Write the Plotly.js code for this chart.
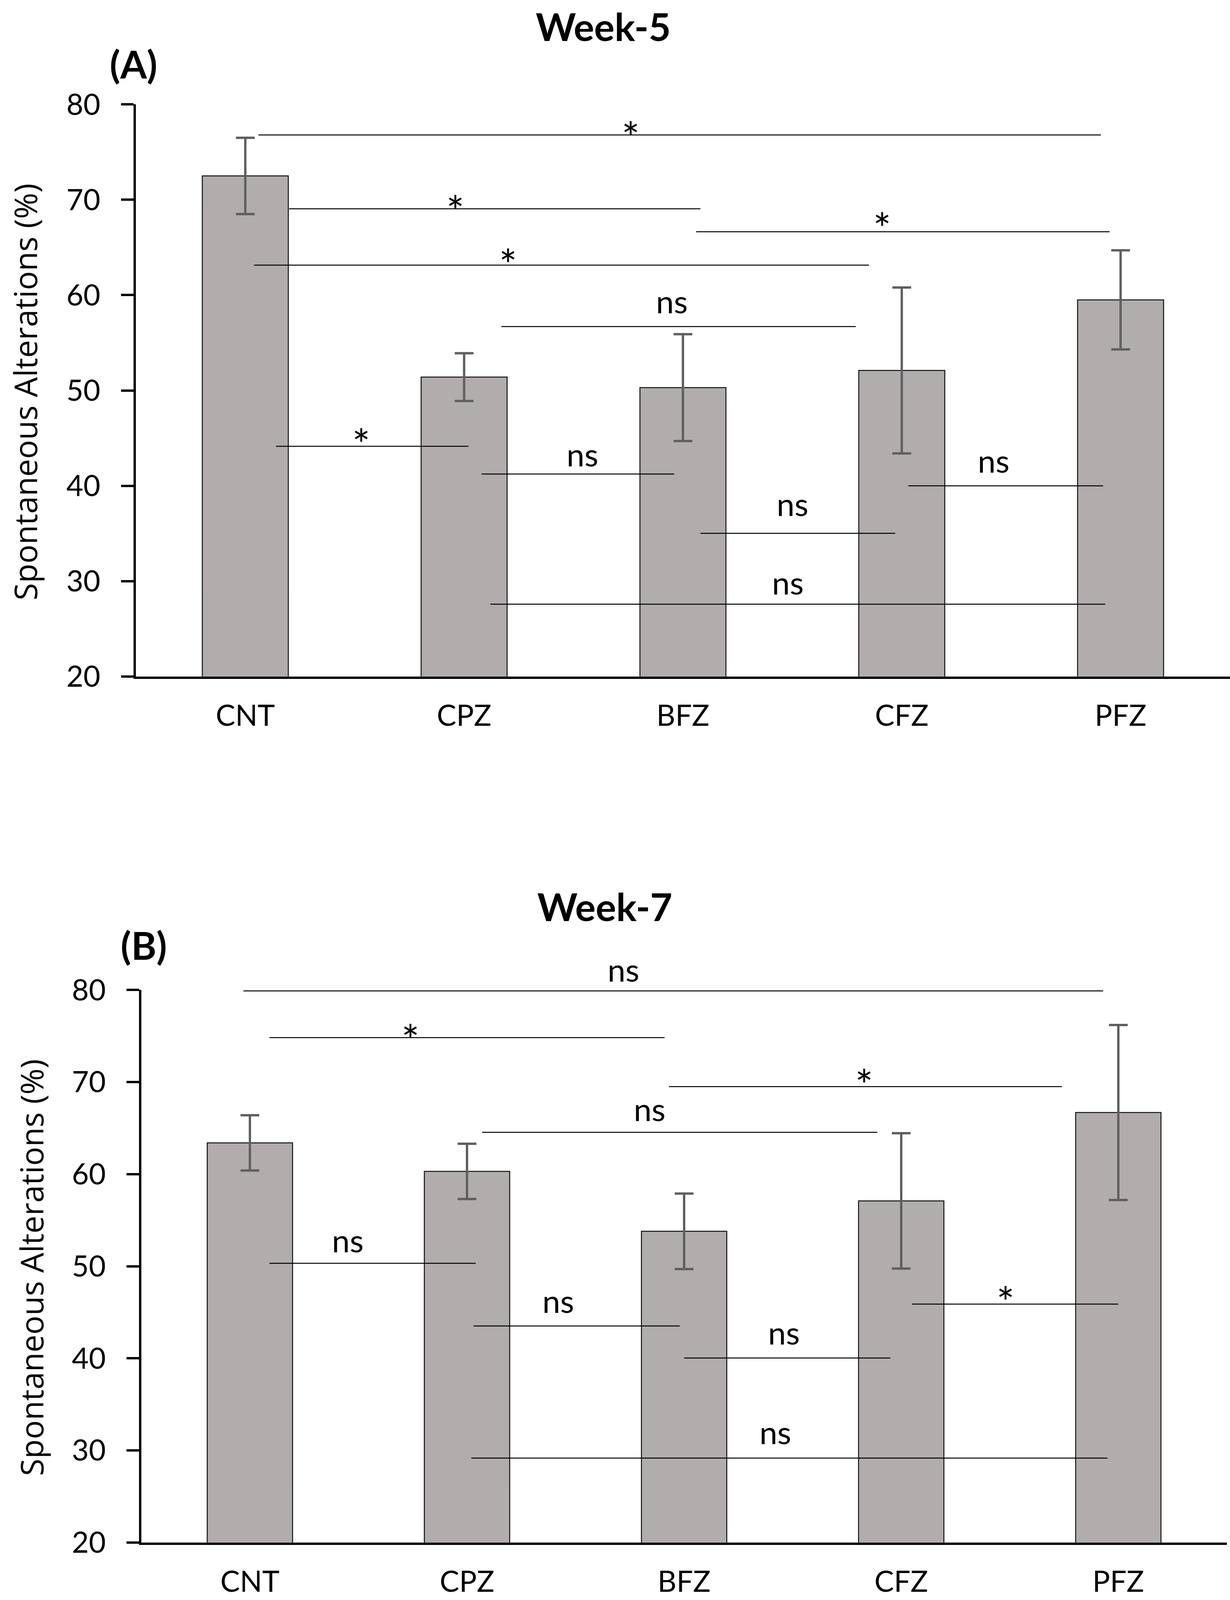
<!DOCTYPE html>
<html>
<head>
<meta charset="utf-8">
<script src="https://cdn.plot.ly/plotly-3.0.1.min.js"></script>
<style>html,body{margin:0;padding:0;background:#fff;overflow:hidden;}</style>
</head>
<body>
<div id="chart"></div>
<script>
// ---------- data ----------
const categories = ['CNT', 'CPZ', 'BFZ', 'CFZ', 'PFZ'];
const yTicks = [20, 30, 40, 50, 60, 70, 80];

const week5Mean = [72.5, 51.4, 50.3, 52.1, 59.5];
const week5Err  = [4.0, 2.5, 5.6, 8.7, 5.2];
const week7Mean = [63.4, 60.3, 53.8, 57.1, 66.7];
const week7Err  = [3.0, 3.0, 4.1, 7.35, 9.5];

// significance comparison lines (category index from/to, level) and labels
const week5SigFrom  = [0.06, 0.20, 2.06, 0.04, 1.17, 0.14, 1.08, 3.03, 2.08, 1.12];
const week5SigTo    = [3.91, 2.08, 3.95, 2.85, 2.79, 1.02, 1.96, 3.92, 2.97, 3.93];
const week5SigLevel = [76.8, 69.05, 66.65, 63.14, 56.7, 44.14, 41.23, 40.0, 35.02, 27.58];
const week5SigText  = ['*', '*', '*', '*', 'ns', '*', 'ns', 'ns', 'ns', 'ns'];
const week5TextX    = [1.76, 0.96, 2.91, 1.20, 1.95, 0.53, 1.54, 3.42, 2.50, 2.48];
const week5TextY    = [78.06, 70.32, 68.54, 64.72, 58.96, 45.87, 42.91, 42.25, 37.72, 29.47];

const week7SigFrom  = [-0.03, 0.09, 1.93, 1.07, 0.09, 1.03, 3.05, 2.00, 1.02];
const week7SigTo    = [3.93, 1.91, 3.74, 2.89, 1.04, 1.98, 4.00, 2.95, 3.95];
const week7SigLevel = [79.9, 74.83, 69.51, 64.55, 50.32, 43.52, 45.89, 40.04, 29.17];
const week7SigText  = ['ns', '*', '*', 'ns', 'ns', 'ns', '*', 'ns', 'ns'];
const week7TextX    = [1.72, 0.74, 2.83, 1.84, 0.45, 1.42, 3.48, 2.46, 2.42];
const week7TextY    = [81.8, 76.15, 71.25, 66.66, 52.43, 45.84, 47.68, 42.41, 31.60];

// ---------- sizing: design frame 3150x5149, fitted into the real viewport ----------
const W = 3150, H0 = 5149;
const H = Math.min(window.innerHeight || H0, H0);
const ky = H / H0;              // vertical fit factor
const fs = Math.sqrt(ky);       // font factor
const px = v => v / W;
const py = v => 1 - v / H0;     // paper fraction from design-frame pixel row
document.getElementById('chart').style.width = W + 'px';
document.getElementById('chart').style.height = H + 'px';

const barFill = '#b0adac';
const errColor = '#5f5f5f';
const tickSize = 84 * fs;
const tickFont = {family: 'Lato, Carlito, sans-serif', size: tickSize, color: '#000'};
const nsFont = {family: 'Lato, Carlito, sans-serif', size: 92 * fs, color: '#000'};
const starFont = {family: 'Lato, Carlito, sans-serif', size: 122 * fs, color: '#000'};

function barTrace(mean, err, xa, ya, name) {
  return {
    type: 'bar', x: categories, y: mean, name: name,
    xaxis: xa, yaxis: ya,
    marker: {color: barFill, line: {color: '#111', width: 2.5}},
    error_y: {type: 'data', array: err, visible: true, color: errColor, thickness: 6, width: 24},
    showlegend: false, hoverinfo: 'x+y'
  };
}

function xAxis(domain, anchor) {
  return {
    domain: domain, anchor: anchor, type: 'category', range: [-0.5, 4.5],
    showline: true, linecolor: '#000', linewidth: 6, ticks: '',
    showgrid: false, zeroline: false, tickfont: tickFont,
    ticklabelstandoff: ky < 1 ? 30 : 44, fixedrange: true
  };
}
function yAxis(domain, anchor) {
  return {
    domain: domain, anchor: anchor, range: [20, 80],
    tickvals: yTicks, ticktext: yTicks.map(String),
    showline: true, linecolor: '#000', linewidth: 6,
    ticks: 'outside', ticklen: 32, tickwidth: 6, tickcolor: '#000',
    showgrid: false, zeroline: false, tickfont: tickFont,
    ticklabelstandoff: 38, fixedrange: true
  };
}

const shapes = [];
const annotations = [];
function addSig(from, to, level, text, tx, ty, xr, yr, pxPerUnit) {
  for (let i = 0; i < from.length; i++) {
    shapes.push({type: 'line', xref: xr, yref: yr, x0: from[i], x1: to[i], y0: level[i], y1: level[i],
      line: {color: '#000', width: 2.5}});
    const star = text[i] === '*';
    // annotations outside the axis range are hidden, so clamp and shift in pixels
    const yy = Math.min(ty[i], 80);
    const extra = (ty[i] - yy) * pxPerUnit * ky;
    annotations.push({xref: xr, yref: yr, x: tx[i], y: yy, text: text[i], showarrow: false,
      xanchor: 'center', yanchor: 'middle', yshift: (star ? -40 : 12) * fs + extra,
      font: star ? starFont : nsFont});
  }
}
addSig(week5SigFrom, week5SigTo, week5SigLevel, week5SigText, week5TextX, week5TextY, 'x', 'y', 30.68);
addSig(week7SigFrom, week7SigTo, week7SigLevel, week7SigText, week7TextX, week7TextY, 'x2', 'y2', 29.63);

const boldFont = {family: 'Lato, Carlito, sans-serif', size: 110 * fs, color: '#000', weight: 'bold'};
const yTitleFont = {family: '"Open Sans", sans-serif', size: 102 * ky, color: '#000'};

annotations.push(
  {xref: 'paper', yref: 'paper', x: px(1549), y: py(2916), text: '<b>Week-7</b>', showarrow: false,
   xanchor: 'center', yanchor: 'middle', font: boldFont},
  {xref: 'paper', yref: 'paper', x: px(342), y: py(205), text: '<b>(A)</b>', showarrow: false,
   xanchor: 'center', yanchor: 'middle', font: boldFont},
  {xref: 'paper', yref: 'paper', x: px(368), y: py(3041), text: '<b>(B)</b>', showarrow: false,
   xanchor: 'center', yanchor: 'middle', font: boldFont},
  {xref: 'paper', yref: 'paper', x: px(64), y: py(1262), text: 'Spontaneous Alterations (%)', showarrow: false,
   xanchor: 'center', yanchor: 'middle', textangle: -90, font: yTitleFont},
  {xref: 'paper', yref: 'paper', x: px(80), y: py(4080), text: 'Spontaneous Alterations (%)', showarrow: false,
   xanchor: 'center', yanchor: 'middle', textangle: -90, font: yTitleFont}
);

const data = [
  barTrace(week5Mean, week5Err, 'x', 'y', 'Week-5'),
  barTrace(week7Mean, week7Err, 'x2', 'y2', 'Week-7')
];

const layout = {
  width: W, height: H,
  margin: {l: 0, r: 0, t: 0, b: 0},
  paper_bgcolor: '#fff', plot_bgcolor: '#fff',
  title: {text: '<b>Week-5</b>', x: px(1545), xanchor: 'center', xref: 'paper',
          y: 1 - 36 / H, yanchor: 'top', yref: 'container', font: boldFont},
  bargap: 0.607,
  xaxis: xAxis([px(348), 1.0], 'y'),
  yaxis: yAxis([py(2177), py(336)], 'x'),
  xaxis2: xAxis([px(362), px(3142)], 'y2'),
  yaxis2: yAxis([py(4964), py(3186)], 'x2'),
  shapes: shapes,
  annotations: annotations
};

Plotly.newPlot('chart', data, layout, {displayModeBar: false, staticPlot: true});
</script>
</body>
</html>
